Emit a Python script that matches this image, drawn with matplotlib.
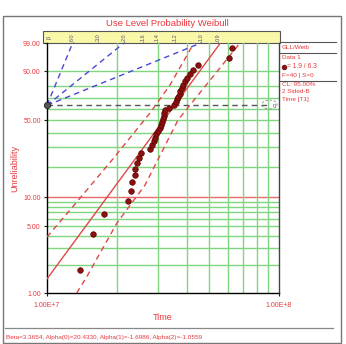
import numpy as np
import matplotlib.pyplot as plt
from matplotlib.lines import Line2D
from matplotlib.patches import Rectangle, Ellipse
from matplotlib.transforms import blended_transform_factory

plt.rcParams['font.family'] = ['Liberation Sans', 'DejaVu Sans']

# failure data (time, unreliability %)
fail_time = [1.388e7, 1.579e7, 1.756e7, 2.241e7, 2.302e7, 2.336e7, 2.384e7, 2.400e7,
             2.455e7, 2.492e7, 2.550e7, 2.793e7, 2.849e7, 2.884e7, 2.907e7, 2.959e7,
             3.018e7, 3.070e7, 3.100e7, 3.131e7, 3.162e7, 3.184e7, 3.209e7, 3.241e7,
             3.373e7, 3.527e7, 3.580e7, 3.623e7, 3.670e7, 3.725e7, 3.762e7, 3.807e7,
             3.857e7, 3.934e7, 4.013e7, 4.135e7, 4.239e7, 4.476e7, 6.117e7, 6.272e7]
fail_unrel = [1.73, 4.21, 6.68, 9.16, 11.63, 14.11, 16.58, 19.06, 21.53, 24.01,
              26.49, 28.96, 31.44, 33.91, 36.39, 38.86, 41.34, 43.81, 46.29, 48.76,
              51.24, 53.71, 56.19, 58.66, 61.14, 63.61, 66.09, 68.56, 71.04, 73.51,
              75.99, 78.47, 80.94, 83.42, 85.89, 88.37, 90.84, 93.32, 95.79, 98.27]

# fitted line and 95% two-sided bounds
fit_time = [1.0e7, 5.59e7]
fit_unrel = [1.41, 99.0]
upper_time = [1.0e7, 1.256e7, 1.906e7, 2.780e7, 3.389e7, 4.301e7]
upper_unrel = [3.89, 7.39, 23.0, 56.3, 80.7, 99.0]
lower_time = [1.343e7, 1.473e7, 2.003e7, 2.645e7, 3.670e7, 6.790e7]
lower_unrel = [1.0, 1.44, 5.44, 13.2, 50.2, 99.0]

# beta scale
beta_labels = ['6.0', '3.0', '2.0', '1.6', '1.4', '1.2', '1.0', '0.9']
beta_values = [6.0, 3.0, 2.0, 1.6, 1.4, 1.2, 1.0, 0.9]
beta_lines = [6.0, 2.0, 1.0]
pivot_time = 1.0e7
pivot_unrel = 63.21

y_ticks = [1, 5, 10, 50, 90, 99]
y_grid = [2, 3, 4, 6, 7, 8, 9, 20, 30, 40, 60, 70, 80]
x_grid = [2e7, 3e7, 4e7, 5e7, 6e7, 7e7, 8e7, 9e7]

RED = '#e8383d'
GREEN = '#7fd67f'


def weib(f):
    f = np.clip(np.asarray(f, dtype=float), 1e-6, 100 - 1e-6) / 100.0
    return np.log(-np.log(1.0 - f))


def weib_inv(w):
    return 100.0 * (1.0 - np.exp(-np.exp(np.asarray(w, dtype=float))))


W, H = 346, 344
fig = plt.figure(figsize=(W / 100, H / 100), dpi=100)
ax = fig.add_axes([47 / W, 1 - 293 / H, 232 / W, 250 / H])
ax.set_xscale('log')
ax.set_yscale('function', functions=(weib, weib_inv))
ax.set_xlim(1e7, 1e8)
ax.set_ylim(1, 99)
ax.patch.set_alpha(0)

for g in y_grid + [90, 50, 5]:
    ax.axhline(g, color=GREEN, lw=1.0, zorder=1)
ax.axhline(10, color='#e86a6a', lw=1.0, zorder=1)
for g in x_grid:
    ax.axvline(g, color=GREEN, lw=1.0, zorder=1)

# beta guide lines from pivot
w_top = weib(99.0)
for b in beta_lines:
    t_top = pivot_time * np.exp(w_top / b)
    ax.plot([pivot_time, t_top], [pivot_unrel, 99.0], color='#4848d8', lw=1.0,
            ls=(0, (4, 3)), zorder=2, clip_on=False)
ax.plot([pivot_time, 9.0e7], [pivot_unrel, pivot_unrel], color='#555555', lw=1.0,
        ls=(0, (4, 3)), zorder=2)

ax.plot(fit_time, fit_unrel, color='#e04848', lw=1.0, zorder=3)
ax.plot(upper_time, upper_unrel, color='#e04848', lw=1.0, ls=(0, (4, 3)), zorder=3)
ax.plot(lower_time, lower_unrel, color='#e04848', lw=1.0, ls=(0, (4, 3)), zorder=3)

ax.plot(fail_time, fail_unrel, 'o', ms=4.0, color='#8b1010', mec='#5a0000', mew=0.5,
        zorder=4, clip_on=False)
ax.plot([pivot_time], [pivot_unrel], 'o', ms=4.5, color='#555555', mec='#222222',
        mew=0.6, zorder=5, clip_on=False)

# eta marker
ax.text(9.55e7, pivot_unrel, 'η', color='#666666', fontsize=4.5, ha='center',
        va='center', zorder=5)
ax.add_patch(Ellipse((269.5 / W, 1 - 104.5 / H), 15 / W, 9 / H, transform=fig.transFigure,
                     fill=False, ec='#888888', lw=0.6, ls=(0, (3, 2)), zorder=5))

ax.set_yticks(y_ticks)
ax.set_yticklabels(['%.2f' % v for v in y_ticks])
ax.set_xticks([1e7, 1e8])
ax.set_xticklabels(['1.00E+7', '1.00E+8'])
ax.xaxis.set_minor_locator(plt.NullLocator())
ax.yaxis.set_minor_locator(plt.NullLocator())
ax.tick_params(axis='both', colors='#222222', labelcolor=RED, labelsize=5, length=2.5,
               width=0.8, pad=2)
ax.tick_params(axis='x', pad=4)
ax.spines['top'].set_visible(False)
ax.spines['right'].set_color('#444444')
for s in ['left', 'bottom', 'right']:
    ax.spines[s].set_linewidth(1.0)
ax.set_xlabel('Time', color=RED, fontsize=6.5, labelpad=3)
ax.set_ylabel('Unreliability', color=RED, fontsize=6.5, labelpad=3)

# beta strip
fig.patches.append(Rectangle((43 / W, 1 - 43 / H), 237 / W, 12 / H, transform=fig.transFigure,
                             facecolor='#f8f8a8', edgecolor='#555555', lw=0.8, zorder=-1))
strip = blended_transform_factory(ax.transData, fig.transFigure)
ax.text(pivot_time, 1 - 37 / H, 'β', transform=strip, rotation=90, fontsize=4,
        color='#555577', ha='left', va='center', clip_on=False)
for lab, b in zip(beta_labels, beta_values):
    t_top = pivot_time * np.exp(w_top / b)
    ax.text(t_top, 1 - 37 / H, lab, transform=strip, rotation=90, fontsize=4,
            color='#555577', ha='center', va='center', clip_on=False)
    ax.plot([t_top, t_top], [1 - 43 / H, 1 - 41.5 / H], transform=strip, color='#555577',
            lw=0.5, clip_on=False)

fig.text(167 / W, 1 - 23 / H, 'Use Level Probability Weibull', color=RED,
         fontsize=6.8, ha='center', va='center')

# legend panel
for yy in [42.3, 52.7, 80.7]:
    fig.add_artist(Line2D([280 / W, 336 / W], [1 - yy / H] * 2, color='#555555', lw=0.8))
legend_rows = [('GLL/Weib', 47.5), ('Data 1', 57.5), ('F=40 | S=0', 75.5),
               ('CL: 95.00%', 84.5), ('2 Sided-B', 91.5), ('Time [T1]', 99)]
for txt, yy in legend_rows:
    fig.text(282 / W, 1 - yy / H, txt, color=RED, fontsize=4.6, va='center')
fig.add_artist(Line2D([284 / W], [1 - 66.5 / H], marker='o', ms=3.5, color='#8b1010',
                      mec='#5a0000', mew=0.4))
fig.text(287 / W, 1 - 66.5 / H, '= 1.9 / 6.3', color=RED, fontsize=4.8, va='center')

# outer frame and footer
fig.patches.append(Rectangle((2.5 / W, 1.5 / H), 338 / W, 327 / H, transform=fig.transFigure,
                             fill=False, edgecolor='#777777', lw=1.0))
fig.add_artist(Line2D([5 / W, 333 / W], [1 - 328 / H] * 2, color='#888888', lw=0.9))
fig.text(6 / W, 1 - 337 / H,
         'Beta=3.3654, Alpha(0)=20.4330, Alpha(1)=-1.6986, Alpha(2)=-1.0559',
         color=RED, fontsize=4.6, va='center')

fig.savefig('out.png', dpi=100)
